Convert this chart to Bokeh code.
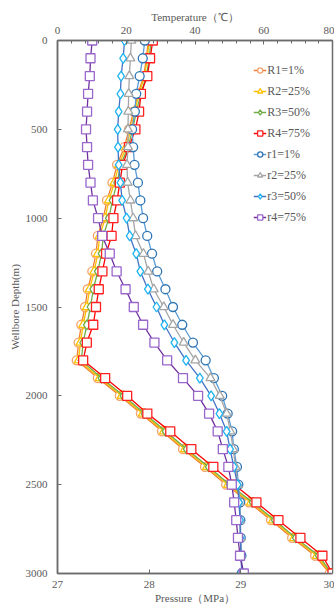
from bokeh.plotting import figure
from bokeh.models import Range1d, LinearAxis, FixedTicker, Legend, LegendItem
from bokeh.embed import file_html
from bokeh.resources import INLINE

# ---------------- data ----------------
depth = [0, 100, 200, 300, 400, 500, 600, 700, 800, 900, 1000,
         1100, 1200, 1300, 1400, 1500, 1600, 1700, 1800, 1900, 2000,
         2100, 2200, 2300, 2400, 2500, 2600, 2700, 2800, 2900, 3000]

# Pressure series (MPa, bottom axis)
R1 = [27.99, 27.97, 27.94, 27.88, 27.83, 27.78, 27.73, 27.65, 27.60, 27.54, 27.50,
      27.44, 27.42, 27.38, 27.33, 27.30, 27.26, 27.23, 27.21, 27.44, 27.68,
      27.91, 28.14, 28.37, 28.61, 28.84, 29.09, 29.33, 29.56, 29.81, 29.97]
R2 = [28.00, 27.98, 27.95, 27.89, 27.84, 27.80, 27.75, 27.67, 27.62, 27.56, 27.52,
      27.46, 27.44, 27.40, 27.35, 27.32, 27.28, 27.25, 27.23, 27.46, 27.70,
      27.93, 28.16, 28.39, 28.63, 28.86, 29.11, 29.35, 29.58, 29.83, 29.98]
R3 = [28.02, 28.00, 27.97, 27.91, 27.86, 27.82, 27.77, 27.69, 27.65, 27.60, 27.56,
      27.50, 27.48, 27.44, 27.39, 27.36, 27.32, 27.28, 27.26, 27.48, 27.72,
      27.95, 28.18, 28.41, 28.65, 28.88, 29.13, 29.37, 29.60, 29.85, 29.99]
R4 = [28.04, 28.01, 27.98, 27.91, 27.89, 27.85, 27.78, 27.71, 27.68, 27.65, 27.61,
      27.59, 27.53, 27.49, 27.45, 27.42, 27.39, 27.32, 27.28, 27.52, 27.76,
      27.98, 28.23, 28.46, 28.70, 28.93, 29.17, 29.41, 29.65, 29.89, 30.00]

# Temperature series (deg C, top axis)
r1 = [25.4, 24.8, 23.9, 22.9, 22.5, 21.7, 22.0, 22.4, 23.4, 24.1, 24.9,
      26.1, 27.5, 29.0, 31.4, 33.6, 36.3, 39.4, 43.1, 45.5, 47.9,
      49.5, 50.8, 51.3, 52.2, 52.6, 53.1, 53.2, 53.3, 53.5, 53.6]
r2 = [21.5, 21.2, 20.9, 20.7, 20.6, 20.5, 20.5, 20.2, 20.4, 21.2, 22.0,
      22.7, 25.0, 26.4, 28.0, 30.9, 33.6, 36.7, 40.1, 44.5, 47.2,
      49.2, 50.3, 51.1, 51.8, 52.5, 52.9, 53.1, 53.2, 53.4, 53.7]
r3 = [19.5, 19.1, 18.5, 18.3, 17.8, 17.5, 17.6, 17.8, 18.3, 18.8, 20.1,
      21.0, 22.9, 24.1, 26.3, 28.8, 31.1, 34.0, 37.4, 41.4, 44.7,
      47.1, 49.2, 50.2, 51.3, 52.4, 52.8, 53.1, 53.2, 53.4, 53.6]
r4 = [10.1, 9.6, 9.4, 8.9, 8.6, 8.3, 8.6, 8.9, 9.6, 10.3, 11.8,
      13.0, 15.2, 17.2, 19.8, 22.2, 24.9, 28.2, 31.9, 36.5, 40.9,
      44.1, 46.6, 48.1, 49.7, 50.7, 51.4, 52.0, 52.5, 53.1, 54.2]

labels = ["R1=1%", "R2=25%", "R3=50%", "R4=75%", "r1=1%", "r2=25%", "r3=50%", "r4=75%"]
temp_ticks = [0, 20, 40, 60, 80]
temp_minor = [0, 4, 8, 12, 16, 20, 24, 28, 32, 36, 40, 44, 48, 52, 56, 60, 64, 68, 72, 76, 80]
pres_ticks = [27, 28, 29, 30]
depth_ticks = [0, 500, 1000, 1500, 2000, 2500, 3000]

# ---------------- styles ----------------
FONT = "Liberation Serif"
TXT = "#595959"
AX = "#6b6b6b"

p = figure(width=334, height=607,
           x_range=Range1d(0, 80), y_range=Range1d(3000, 0),
           x_axis_location="above",
           output_backend="svg", toolbar_location=None,
           min_border_left=57, min_border_right=2,
           min_border_top=40, min_border_bottom=34)
p.extra_x_ranges = {"p": Range1d(27, 30)}
p.xgrid.visible = False
p.ygrid.visible = False
p.outline_line_color = AX
p.outline_line_width = 1.5
p.background_fill_color = "white"
p.border_fill_color = "white"

top = p.xaxis[0]
top.ticker = FixedTicker(ticks=temp_ticks, minor_ticks=temp_minor)
top.axis_label = "Temperature（℃）"
top.major_label_standoff = 7
top.axis_label_standoff = 1

bottom = LinearAxis(x_range_name="p")
bottom.ticker = FixedTicker(ticks=pres_ticks)
bottom.axis_label = "Pressure（MPa）"
bottom.major_label_standoff = 7
bottom.axis_label_standoff = 1
p.add_layout(bottom, "below")

left = p.yaxis[0]
left.ticker = FixedTicker(ticks=depth_ticks)
left.axis_label = "Wellbore Depth(m)"
left.major_label_standoff = 10
left.axis_label_standoff = 2

for ax in (top, bottom, left):
    ax.axis_line_color = AX
    ax.axis_line_width = 1.5
    ax.major_tick_line_color = AX
    ax.minor_tick_line_color = AX
    ax.major_tick_in = 4
    ax.major_tick_out = 0
    ax.minor_tick_in = 3
    ax.minor_tick_out = 0
    ax.major_label_text_font = FONT
    ax.major_label_text_font_size = "11px"
    ax.major_label_text_color = TXT
    ax.axis_label_text_font = FONT
    ax.axis_label_text_font_size = "11px"
    ax.axis_label_text_font_style = "normal"
    ax.axis_label_text_color = TXT
bottom.minor_tick_line_color = None
left.minor_tick_line_color = None

series = [
    (R1, "p", "#ED7D31", "#F4A26B", "circle", 9),
    (R2, "p", "#FFC000", "#FFC000", "triangle", 9),
    (R3, "p", "#70AD47", "#70AD47", "diamond", 10),
    (R4, "p", "#FF0000", "#FF2020", "square", 9),
    (r1, "default", "#5B9BD5", "#2E75B6", "circle", 9),
    (r2, "default", "#A5A5A5", "#A5A5A5", "triangle", 9),
    (r3, "default", "#4472C4", "#1EB4F0", "diamond", 10),
    (r4, "default", "#7030A0", "#9966CC", "square", 9),
]

items = []
for (xs, rng, lc, mc, mk, sz), lab in zip(series, labels):
    ln = p.line(xs, depth, line_color=lc, line_width=1.3, x_range_name=rng)
    sc = p.scatter(xs, depth, marker=mk, size=sz, line_color=mc, fill_color="white",
                   line_width=1.3, x_range_name=rng)
    items.append(LegendItem(label=lab, renderers=[ln, sc]))

legend = Legend(items=items, location="top_right")
legend.margin = 22
legend.padding = 4
legend.spacing = 5
legend.glyph_width = 13
legend.glyph_height = 16
legend.label_height = 16
legend.label_standoff = 1
legend.label_text_font = FONT
legend.label_text_font_size = "12px"
legend.label_text_color = TXT
legend.background_fill_alpha = 0
legend.border_line_color = None
p.add_layout(legend)

open("out.html", "w").write(file_html(p, INLINE))
